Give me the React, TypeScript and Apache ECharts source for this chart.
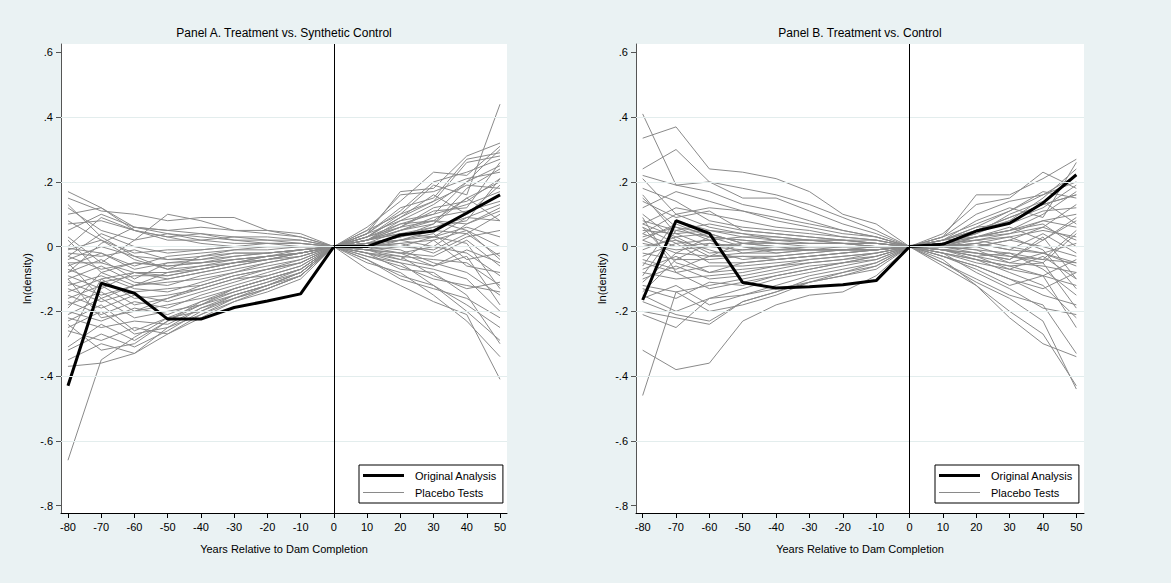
import React, { useEffect, useRef } from "react";
import * as echarts from "echarts";

const years = [-80, -70, -60, -50, -40, -30, -20, -10, 0, 10, 20, 30, 40, 50];
const xTicks = [-80, -70, -60, -50, -40, -30, -20, -10, 0, 10, 20, 30, 40, 50];
const yTicks = [-0.8, -0.6, -0.4, -0.2, 0, 0.2, 0.4, 0.6];
const gridValues = [-0.6, -0.4, -0.2, 0, 0.2, 0.4];

const titleA = "Panel A. Treatment vs. Synthetic Control";
const titleB = "Panel B. Treatment vs. Control";
const xName = "Years Relative to Dam Completion";
const yName = "ln(density)";
const nameOriginal = "Original Analysis";
const namePlacebo = "Placebo Tests";

const originalA = [-0.43, -0.113, -0.144, -0.224, -0.224, -0.188, -0.168, -0.146, 0, 0, 0.036, 0.048, 0.104, 0.16];
const originalB = [-0.165, 0.08, 0.041, -0.111, -0.128, -0.124, -0.118, -0.105, 0, 0.007, 0.048, 0.072, 0.135, 0.222];

const placeboA = [
  [0.17, 0.12, 0.05, 0.03, 0.04, 0.02, 0.02, 0.01, 0, 0.04, 0.17, 0.18, 0.28, 0.32],
  [0.15, 0.11, 0.10, 0.08, 0.09, 0.09, 0.05, 0.04, 0, 0.06, 0.14, 0.23, 0.22, 0.31],
  [0.12, 0.05, 0.02, 0.10, 0.08, 0.05, 0.05, 0.03, 0, 0.03, 0.10, 0.19, 0.16, 0.44],
  [0.10, 0.12, 0.06, 0.05, 0.04, 0.03, 0.02, 0.02, 0, 0.05, 0.16, 0.17, 0.21, 0.23],
  [0.07, 0.08, 0.05, 0.02, 0.02, 0.03, 0.03, 0.02, 0, 0.04, 0.12, 0.15, 0.27, 0.29],
  [0.05, 0.10, 0.06, 0.04, 0.02, 0.01, 0.01, 0.01, 0, 0.02, 0.08, 0.10, 0.20, 0.30],
  [0.03, -0.05, 0.02, 0.04, 0.03, 0.02, 0.01, 0.01, 0, 0.03, 0.06, 0.11, 0.12, 0.26],
  [0.00, 0.09, 0.05, 0.03, 0.01, 0.00, 0.01, 0.00, 0, 0.02, 0.05, 0.07, 0.18, 0.24],
  [-0.005, -0.02, -0.06, -0.03, -0.02, -0.01, 0.00, 0.00, 0, 0.02, 0.04, 0.06, 0.08, 0.21],
  [-0.01, 0.02, -0.04, -0.07, -0.03, -0.01, -0.01, 0.00, 0, 0.01, 0.03, 0.05, 0.10, 0.19],
  [-0.02, -0.03, -0.01, -0.04, -0.04, -0.02, -0.02, -0.01, 0, 0.02, 0.05, 0.08, 0.07, 0.12],
  [-0.03, -0.07, -0.05, -0.06, -0.05, -0.03, -0.02, -0.01, 0, 0.01, 0.02, 0.03, 0.09, 0.13],
  [-0.04, 0.00, -0.03, -0.07, -0.06, -0.04, -0.03, -0.02, 0, 0.01, 0.03, 0.07, 0.15, 0.08],
  [-0.05, -0.05, -0.08, -0.08, -0.06, -0.05, -0.03, -0.02, 0, 0.00, 0.01, 0.02, 0.05, 0.00],
  [-0.06, -0.02, -0.07, -0.05, -0.04, -0.03, -0.02, -0.01, 0, 0.01, 0.00, -0.01, 0.04, -0.03],
  [-0.07, -0.11, -0.09, -0.09, -0.07, -0.05, -0.04, -0.02, 0, 0.00, -0.02, -0.03, 0.02, -0.06],
  [-0.08, -0.04, -0.10, -0.05, -0.05, -0.04, -0.03, -0.01, 0, -0.01, -0.02, 0.00, -0.02, -0.09],
  [-0.09, -0.13, -0.08, -0.10, -0.08, -0.06, -0.04, -0.02, 0, -0.01, -0.03, -0.04, -0.05, -0.12],
  [-0.10, -0.06, -0.11, -0.12, -0.09, -0.07, -0.05, -0.03, 0, 0.00, -0.01, -0.05, -0.08, -0.15],
  [-0.11, -0.15, -0.12, -0.11, -0.10, -0.08, -0.05, -0.03, 0, -0.01, -0.04, -0.06, -0.03, -0.18],
  [-0.12, -0.09, -0.13, -0.14, -0.11, -0.08, -0.06, -0.04, 0, -0.02, -0.05, -0.07, -0.10, -0.20],
  [-0.13, -0.17, -0.14, -0.13, -0.12, -0.09, -0.07, -0.04, 0, -0.03, -0.06, -0.10, -0.12, -0.14],
  [-0.14, -0.10, -0.16, -0.15, -0.13, -0.10, -0.07, -0.05, 0, -0.02, -0.07, -0.08, -0.15, -0.30],
  [-0.15, -0.19, -0.15, -0.17, -0.14, -0.11, -0.08, -0.05, 0, -0.03, -0.05, -0.12, -0.18, -0.25],
  [-0.16, -0.12, -0.18, -0.16, -0.13, -0.10, -0.09, -0.06, 0, -0.04, -0.09, -0.12, -0.20, -0.29],
  [-0.17, -0.21, -0.17, -0.19, -0.15, -0.12, -0.09, -0.06, 0, -0.05, -0.08, -0.15, -0.23, -0.34],
  [-0.18, -0.14, -0.20, -0.18, -0.16, -0.13, -0.10, -0.07, 0, -0.07, -0.12, -0.17, -0.21, -0.41],
  [-0.20, -0.23, -0.19, -0.21, -0.17, -0.14, -0.11, -0.07, 0, -0.04, -0.10, -0.13, -0.16, -0.22],
  [-0.21, -0.16, -0.22, -0.20, -0.18, -0.15, -0.12, -0.08, 0, -0.02, -0.03, -0.09, -0.13, -0.11],
  [-0.22, -0.25, -0.23, -0.24, -0.19, -0.15, -0.12, -0.08, 0, -0.01, 0.02, 0.04, -0.04, -0.02],
  [-0.23, -0.18, -0.26, -0.22, -0.20, -0.16, -0.13, -0.09, 0, 0.00, 0.01, -0.02, 0.03, 0.05],
  [-0.25, -0.20, -0.27, -0.25, -0.21, -0.17, -0.13, -0.09, 0, 0.01, 0.03, 0.06, 0.09, 0.08],
  [-0.26, -0.29, -0.25, -0.27, -0.22, -0.17, -0.14, -0.10, 0, 0.02, 0.04, 0.03, 0.06, 0.03],
  [-0.31, -0.24, -0.29, -0.23, -0.18, -0.14, -0.11, -0.08, 0, 0.01, 0.05, 0.09, 0.11, 0.14],
  [-0.32, -0.27, -0.31, -0.26, -0.20, -0.15, -0.12, -0.09, 0, 0.03, 0.07, 0.10, 0.13, 0.17],
  [-0.35, -0.30, -0.33, -0.25, -0.19, -0.16, -0.13, -0.09, 0, 0.02, 0.06, 0.12, 0.14, 0.21],
  [-0.37, -0.36, -0.33, -0.27, -0.21, -0.16, -0.12, -0.08, 0, 0.04, 0.08, 0.13, 0.20, 0.25],
  [-0.66, -0.35, -0.28, -0.22, -0.18, -0.13, -0.10, -0.07, 0, 0.03, 0.09, 0.14, 0.19, 0.18],
  [0.02, -0.08, -0.12, -0.10, -0.08, -0.06, -0.04, -0.02, 0, 0.05, 0.10, 0.14, 0.26, 0.28],
  [-0.03, 0.04, 0.00, -0.02, -0.01, 0.00, 0.00, 0.00, 0, 0.03, 0.09, 0.16, 0.10, 0.16],
  [0.08, 0.02, -0.02, -0.01, -0.01, 0.00, 0.00, 0.00, 0, 0.02, 0.06, 0.08, 0.05, -0.04],
  [-0.05, -0.16, -0.12, -0.08, -0.07, -0.05, -0.03, -0.02, 0, -0.02, -0.04, 0.02, -0.06, -0.08],
  [-0.19, -0.08, -0.05, -0.06, -0.05, -0.04, -0.03, -0.02, 0, 0.01, 0.02, 0.00, 0.07, 0.11],
  [-0.28, -0.10, -0.08, -0.09, -0.07, -0.05, -0.04, -0.03, 0, 0.02, 0.07, 0.08, 0.15, 0.20],
  [0.13, 0.03, -0.03, -0.04, -0.03, -0.02, -0.02, -0.01, 0, -0.01, -0.02, -0.06, -0.01, -0.05],
  [-0.10, -0.22, -0.20, -0.16, -0.12, -0.09, -0.07, -0.05, 0, 0.00, 0.02, 0.05, 0.04, 0.10],
  [-0.08, 0.01, 0.06, 0.05, 0.06, 0.05, 0.04, 0.03, 0, 0.04, 0.11, 0.20, 0.23, 0.27],
  [-0.24, -0.32, -0.30, -0.23, -0.17, -0.13, -0.10, -0.07, 0, -0.01, 0.00, 0.03, 0.01, -0.13],
];

const placeboB = [
  [0.41, 0.19, 0.17, 0.13, 0.11, 0.08, 0.05, 0.03, 0, 0.02, 0.06, 0.11, 0.16, 0.20],
  [0.335, 0.37, 0.24, 0.23, 0.21, 0.17, 0.10, 0.07, 0, 0.03, 0.16, 0.16, 0.21, 0.27],
  [0.24, 0.30, 0.20, 0.18, 0.16, 0.13, 0.09, 0.05, 0, 0.04, 0.13, 0.15, 0.23, 0.18],
  [0.22, 0.19, 0.20, 0.15, 0.15, 0.11, 0.07, 0.04, 0, 0.02, 0.08, 0.12, 0.09, 0.26],
  [0.21, 0.10, 0.12, 0.11, 0.08, 0.06, 0.04, 0.03, 0, 0.03, 0.10, 0.14, 0.16, 0.22],
  [0.18, 0.14, 0.08, 0.06, 0.05, 0.04, 0.03, 0.02, 0, 0.01, 0.05, 0.09, 0.13, 0.16],
  [0.16, 0.04, 0.05, 0.04, 0.03, 0.02, 0.02, 0.01, 0, 0.02, 0.06, 0.07, 0.11, 0.12],
  [0.14, 0.09, 0.11, 0.05, 0.04, 0.03, 0.02, 0.02, 0, 0.00, 0.03, 0.05, 0.08, 0.10],
  [0.10, 0.02, -0.03, 0.01, 0.02, 0.02, 0.01, 0.01, 0, 0.01, 0.04, 0.10, 0.14, 0.07],
  [0.08, 0.05, 0.03, 0.02, 0.01, 0.01, 0.01, 0.00, 0, 0.02, 0.03, 0.06, 0.02, 0.08],
  [0.07, 0.03, 0.04, 0.01, 0.00, 0.00, 0.00, 0.00, 0, 0.01, 0.02, 0.03, 0.05, 0.03],
  [0.06, 0.01, 0.02, 0.03, 0.02, 0.01, 0.01, 0.00, 0, 0.00, 0.01, -0.01, -0.02, 0.01],
  [0.05, 0.04, 0.00, -0.01, -0.01, 0.00, 0.00, 0.00, 0, -0.01, -0.02, -0.03, -0.04, -0.05],
  [0.04, 0.00, 0.01, 0.00, -0.02, -0.01, -0.01, 0.00, 0, 0.01, 0.00, 0.02, 0.00, -0.03],
  [0.03, 0.06, 0.02, -0.02, -0.01, -0.01, 0.00, 0.00, 0, -0.01, -0.03, -0.05, -0.06, -0.08],
  [0.02, -0.02, -0.03, -0.03, -0.03, -0.02, -0.01, -0.01, 0, 0.00, 0.02, 0.04, 0.06, 0.02],
  [0.00, 0.02, -0.01, -0.04, -0.03, -0.02, -0.01, -0.01, 0, -0.02, -0.04, -0.06, -0.09, -0.12],
  [-0.02, -0.04, -0.04, -0.03, -0.04, -0.03, -0.02, -0.01, 0, 0.00, -0.01, -0.02, -0.04, 0.05],
  [-0.03, 0.01, -0.05, -0.05, -0.04, -0.03, -0.02, -0.01, 0, -0.01, -0.04, -0.08, -0.12, -0.22],
  [-0.05, -0.08, -0.06, -0.06, -0.05, -0.04, -0.03, -0.02, 0, -0.02, -0.05, -0.07, -0.03, -0.10],
  [-0.07, -0.03, -0.08, -0.07, -0.06, -0.04, -0.03, -0.02, 0, -0.03, -0.06, -0.10, -0.15, -0.18],
  [-0.08, -0.10, -0.09, -0.08, -0.06, -0.05, -0.04, -0.02, 0, -0.02, -0.08, -0.13, -0.19, -0.21],
  [-0.10, -0.06, -0.10, -0.09, -0.07, -0.05, -0.04, -0.03, 0, -0.03, -0.07, -0.12, -0.09, -0.25],
  [-0.12, -0.14, -0.12, -0.10, -0.08, -0.06, -0.05, -0.03, 0, -0.05, -0.10, -0.15, -0.18, -0.33],
  [-0.13, -0.16, -0.11, -0.12, -0.09, -0.07, -0.05, -0.04, 0, -0.04, -0.12, -0.20, -0.27, -0.43],
  [-0.15, -0.20, -0.16, -0.13, -0.10, -0.08, -0.06, -0.04, 0, -0.06, -0.12, -0.22, -0.30, -0.34],
  [-0.16, -0.12, -0.18, -0.15, -0.12, -0.09, -0.07, -0.05, 0, -0.05, -0.11, -0.16, -0.23, -0.44],
  [-0.17, -0.21, -0.23, -0.17, -0.14, -0.10, -0.08, -0.05, 0, -0.03, -0.06, -0.10, -0.13, -0.08],
  [-0.21, -0.25, -0.16, -0.15, -0.13, -0.11, -0.09, -0.06, 0, -0.02, -0.04, -0.06, -0.05, 0.04],
  [-0.32, -0.38, -0.36, -0.23, -0.18, -0.15, -0.14, -0.09, 0, -0.01, 0.00, 0.02, 0.06, 0.13],
  [-0.46, -0.14, -0.20, -0.18, -0.15, -0.11, -0.08, -0.06, 0, 0.00, 0.03, 0.05, 0.10, 0.17],
  [-0.20, -0.22, -0.24, -0.17, -0.14, -0.11, -0.09, -0.07, 0, 0.01, 0.02, 0.00, -0.02, -0.05],
  [0.09, -0.08, -0.13, -0.11, -0.09, -0.07, -0.05, -0.03, 0, -0.01, -0.02, -0.04, 0.02, 0.09],
  [0.12, 0.17, 0.14, 0.11, 0.09, 0.07, 0.05, 0.03, 0, 0.03, 0.07, 0.11, 0.17, 0.15],
  [-0.09, 0.05, 0.07, 0.05, 0.04, 0.03, 0.02, 0.01, 0, 0.02, 0.05, 0.08, 0.12, 0.19],
  [0.07, 0.12, 0.10, 0.08, 0.06, 0.05, 0.03, 0.02, 0, 0.01, 0.04, 0.08, 0.15, 0.24],
  [-0.11, -0.02, 0.03, 0.02, 0.01, 0.01, 0.01, 0.00, 0, 0.00, 0.01, 0.03, -0.01, -0.13],
  [0.06, -0.05, -0.08, -0.05, -0.04, -0.03, -0.02, -0.01, 0, -0.01, -0.03, -0.02, -0.07, -0.15],
  [-0.06, 0.08, 0.05, 0.03, 0.03, 0.02, 0.02, 0.01, 0, 0.01, 0.03, 0.05, 0.07, 0.00],
  [0.04, 0.10, 0.06, 0.04, 0.02, 0.02, 0.01, 0.01, 0, 0.01, 0.00, -0.03, -0.05, -0.19],
  [-0.04, -0.07, -0.03, -0.02, -0.02, -0.01, -0.01, -0.01, 0, 0.00, -0.02, -0.04, 0.03, -0.10],
  [0.02, 0.07, 0.03, 0.00, 0.00, 0.00, 0.00, 0.00, 0, 0.01, 0.03, 0.04, 0.08, 0.06],
  [-0.14, -0.04, 0.01, 0.00, -0.01, -0.01, -0.01, -0.01, 0, 0.00, 0.01, -0.01, 0.04, -0.02],
  [0.15, 0.06, 0.04, 0.01, 0.00, -0.01, -0.01, 0.00, 0, -0.01, -0.03, -0.07, -0.09, -0.04],
  [-0.01, 0.03, -0.02, -0.01, 0.00, 0.00, 0.00, 0.00, 0, 0.02, 0.05, 0.09, 0.13, 0.16],
  [0.01, -0.01, 0.00, 0.01, 0.01, 0.00, 0.00, 0.00, 0, 0.00, -0.01, -0.05, -0.02, -0.06],
];

const FONT = "'Liberation Sans', Arial, Helvetica, sans-serif";
const BG = "#eaf2f3";
const GRAY = "#8a8a8a";

const toPoints = (vals: number[]) => years.map((x, i) => [x, vals[i]]);

const fmtY = (v: number) => {
  if (Math.abs(v) < 1e-9) return "0";
  return v.toFixed(1).replace("0.", ".");
};

export default function App() {
  const ref = useRef<HTMLDivElement>(null);

  useEffect(() => {
    if (!ref.current) return;
    const chart = echarts.init(ref.current, null, { renderer: "svg" });

    const panels = [
      { left: 61, width: 446, xMin: -82.1, xMax: 52.1, title: titleA, orig: originalA, plac: placeboA, legendLeft: 359 },
      { left: 636, width: 448, xMin: -82, xMax: 52.3, title: titleB, orig: originalB, plac: placeboB, legendLeft: 935 },
    ];
    const top = 44;
    const height = 469;

    const grid: any[] = [];
    const xAxis: any[] = [];
    const yAxis: any[] = [];
    const series: any[] = [];
    const legend: any[] = [];
    const graphic: any[] = [];

    panels.forEach((p, k) => {
      grid.push({
        left: p.left, top, width: p.width, height,
        show: true, backgroundColor: "#ffffff", borderWidth: 0,
      });
      xAxis.push({
        type: "value", gridIndex: k, min: p.xMin, max: p.xMax,
        name: xName, nameLocation: "middle", nameGap: 30,
        nameTextStyle: { fontSize: 11, color: "#000", fontFamily: FONT },
        axisLine: { show: true, onZero: false, lineStyle: { color: "#000", width: 1 } },
        axisTick: { show: true, length: 5, customValues: xTicks, lineStyle: { color: "#000" } },
        axisLabel: { customValues: xTicks, margin: 8, fontSize: 11, color: "#000", fontFamily: FONT },
        splitLine: { show: false },
      });
      yAxis.push({
        type: "value", gridIndex: k, min: -0.823, max: 0.626,
        name: yName, nameLocation: "middle", nameGap: 29,
        nameTextStyle: { fontSize: 11, color: "#000", fontFamily: FONT },
        axisLine: { show: true, onZero: false, lineStyle: { color: "#555", width: 1 } },
        axisTick: { show: true, length: 5, customValues: yTicks, lineStyle: { color: "#555" } },
        axisLabel: { customValues: yTicks, margin: 8, fontSize: 11, color: "#000", fontFamily: FONT, formatter: fmtY },
        splitLine: { show: false },
      });
      // gridlines
      series.push({
        type: "line", xAxisIndex: k, yAxisIndex: k, data: [], silent: true, z: 1,
        markLine: {
          silent: true, symbol: ["none", "none"], animation: false,
          label: { show: false },
          lineStyle: { color: "#e3eded", width: 1, type: "solid" },
          data: gridValues.map((v) => ({ yAxis: v })),
        },
      });
      p.plac.forEach((vals) => {
        series.push({
          type: "line", name: namePlacebo, xAxisIndex: k, yAxisIndex: k,
          data: toPoints(vals), showSymbol: false, symbol: "none", silent: true,
          lineStyle: { color: GRAY, width: 1 }, itemStyle: { color: GRAY }, z: 2,
        });
      });
      series.push({
        type: "line", name: nameOriginal, xAxisIndex: k, yAxisIndex: k,
        data: toPoints(p.orig), showSymbol: false, symbol: "none", silent: true,
        lineStyle: { color: "#000", width: 3 }, itemStyle: { color: "#000" }, z: 4,
        markLine: {
          silent: true, symbol: ["none", "none"], animation: false,
          label: { show: false },
          lineStyle: { color: "#000", width: 1, type: "solid" },
          data: [{ xAxis: 0 }],
        },
      });
      legend.push({
        data: [
          { name: nameOriginal, icon: "path://M0,0 L41,0 L41,3 L0,3 Z" },
          { name: namePlacebo, icon: "path://M0,0 L41,0 L41,1 L0,1 Z" },
        ],
        orient: "vertical", left: p.legendLeft, top: 465,
        backgroundColor: "#fff", borderColor: "#000", borderWidth: 1, borderRadius: 0,
        padding: [5, 6, 5, 4], itemWidth: 41, itemHeight: 14, itemGap: 6,
        selectedMode: false,
        textStyle: { fontSize: 11, color: "#000", fontFamily: FONT, padding: [0, 0, 0, 6] },
      });
      graphic.push({
        type: "text", x: p.left + p.width / 2, y: 33,
        style: { text: p.title, textAlign: "center", textVerticalAlign: "middle", fontSize: 12, fill: "#000", fontFamily: FONT },
      });
    });

    chart.setOption({
      animation: false,
      backgroundColor: BG,
      grid, xAxis, yAxis, series, legend, graphic,
    });

    return () => chart.dispose();
  }, []);

  return (
    <div
      ref={ref}
      style={{ position: "absolute", left: 0, top: 0, width: 1171, height: 583 }}
    />
  );
}
